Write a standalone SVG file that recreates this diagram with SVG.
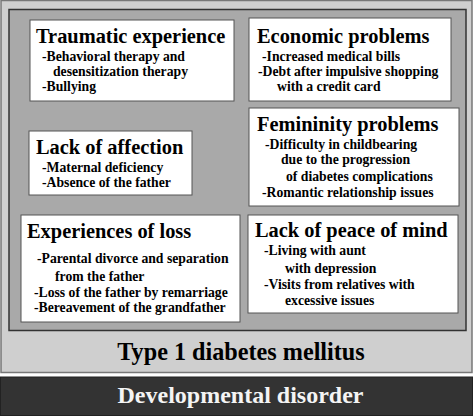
<svg xmlns="http://www.w3.org/2000/svg" width="473" height="416" viewBox="0 0 473 416">
<style>
.bx{fill:#ffffff;stroke:#555555;stroke-width:1}
text{font-family:"Liberation Serif","Times New Roman",serif;font-weight:bold;fill:#000000}
.t{font-size:20.4px}
.i{font-size:13.7px}
</style>
<rect x="0" y="0" width="473" height="416" fill="#ffffff"/>
<g id="type1">
<rect x="1" y="0.5" width="471" height="372" fill="#cfcfcf" stroke="#777777" stroke-width="1.5"/>
<rect x="9" y="9.5" width="457" height="321" fill="#a9a9a9" stroke="#333333" stroke-width="1.5"/>
<text x="241" y="360" text-anchor="middle" style="font-size:24.2px">Type 1 diabetes mellitus</text>
</g>
<g id="developmental">
<rect x="0.5" y="377" width="472" height="38.5" fill="#333333" stroke="#222222" stroke-width="1"/>
<text x="240.5" y="403" text-anchor="middle" style="font-size:24px;fill:#f4f4f4">Developmental disorder</text>
</g>
<g id="traumatic">
<rect class="bx" x="30" y="20" width="204" height="81"/>
<text class="t" x="36" y="43">Traumatic experience</text>
<text class="i" x="42" y="61">-Behavioral therapy and</text>
<text class="i" x="53" y="76">desensitization therapy</text>
<text class="i" x="42" y="91">-Bullying</text>
</g>
<g id="economic">
<rect class="bx" x="249" y="18" width="202" height="83"/>
<text class="t" x="257" y="43">Economic problems</text>
<text class="i" x="262" y="61">-Increased medical bills</text>
<text class="i" x="258" y="76">-Debt after impulsive shopping</text>
<text class="i" x="277" y="91">with a credit card</text>
</g>
<g id="affection">
<rect class="bx" x="29" y="131" width="163" height="64"/>
<text class="t" x="36" y="154">Lack of affection</text>
<text class="i" x="42" y="172">-Maternal deficiency</text>
<text class="i" x="42" y="187">-Absence of the father</text>
</g>
<g id="femininity">
<rect class="bx" x="249" y="108" width="210" height="98"/>
<text class="t" x="257" y="131">Femininity problems</text>
<text class="i" x="265" y="149">-Difficulty in childbearing</text>
<text class="i" x="281" y="164">due to the progression</text>
<text class="i" x="286" y="181">of diabetes complications</text>
<text class="i" x="262" y="197">-Romantic relationship issues</text>
</g>
<g id="loss">
<rect class="bx" x="21" y="215" width="219" height="107"/>
<text class="t" x="27" y="238">Experiences of loss</text>
<text class="i" x="37" y="263">-Parental divorce and separation</text>
<text class="i" x="55" y="281">from the father</text>
<text class="i" x="34" y="297">-Loss of the father by remarriage</text>
<text class="i" x="34" y="312">-Bereavement of the grandfather</text>
</g>
<g id="peace">
<rect class="bx" x="248" y="215" width="210" height="98"/>
<text class="t" x="255" y="237">Lack of peace of mind</text>
<text class="i" x="264" y="255">-Living with aunt</text>
<text class="i" x="285" y="273">with depression</text>
<text class="i" x="264" y="289">-Visits from relatives with</text>
<text class="i" x="285" y="305">excessive issues</text>
</g>
<g id="connectors"></g>
</svg>
